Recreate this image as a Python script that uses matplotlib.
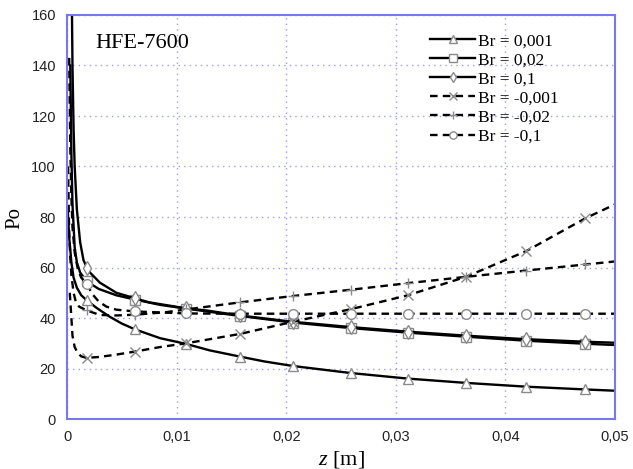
import matplotlib
matplotlib.use("Agg")
import matplotlib.pyplot as plt
from matplotlib.ticker import MultipleLocator

plt.rcParams['mathtext.fontset'] = 'custom'
plt.rcParams['mathtext.rm'] = 'Liberation Serif'
plt.rcParams['mathtext.it'] = 'Liberation Serif:italic'

# marker positions along z
marker_z = [0.0018, 0.0062, 0.0109, 0.0158, 0.0206, 0.0259, 0.0311, 0.0364, 0.0419, 0.0473]

# Br = 0.001
z_a = [0.00005, 0.0002, 0.0004, 0.0006, 0.0009, 0.0013, 0.0018, 0.0027, 0.0039, 0.005, 0.0062,
       0.0085, 0.0109, 0.0130, 0.0158, 0.018, 0.0206, 0.0259, 0.0311, 0.0364, 0.0419, 0.0473, 0.05]
p_a = [84, 72, 62, 56, 52, 49, 47, 44, 40.5, 37.8, 35.5,
       32, 29.7, 27.2, 24.7, 22.8, 21.0, 18.2, 16.0, 14.3, 12.8, 11.7, 11.2]

# Br = 0.02
z_b = [0.0003, 0.0004, 0.0005, 0.0007, 0.0009, 0.0012, 0.0018, 0.0029, 0.0045, 0.0062, 0.0085,
       0.0109, 0.0158, 0.0206, 0.0259, 0.0311, 0.0364, 0.0419, 0.0473, 0.05]
p_b = [140, 105, 85, 68, 62, 58, 54.5, 51.5, 49, 47.3, 45.2,
       43.7, 40.8, 38.2, 36.0, 34.2, 32.6, 31.0, 29.8, 29.3]

# Br = 0.1
z_c = [0.00045, 0.0005, 0.0006, 0.0007, 0.0009, 0.0012, 0.0015, 0.0018, 0.0021, 0.003, 0.0045,
       0.0062, 0.0075, 0.0109, 0.0127, 0.0158, 0.0206, 0.0259, 0.0311, 0.0364, 0.0419, 0.0473, 0.05]
p_c = [162, 140, 115, 100, 83, 70, 63, 60, 58, 54, 50,
       47.8, 46.2, 43.8, 43, 41, 38.5, 36.4, 34.6, 33.0, 31.6, 30.6, 30.2]

# Br = -0.001
z_d = [0.00025, 0.0003, 0.0004, 0.0005, 0.0007, 0.001, 0.0013, 0.0018, 0.003, 0.0045, 0.0062,
       0.0085, 0.0109, 0.0158, 0.0206, 0.0259, 0.0311, 0.0364, 0.0419, 0.0473, 0.05]
p_d = [50, 47, 40, 33, 28.5, 26, 24.8, 24.2, 24.6, 25.5, 26.7,
       28.5, 30, 33.7, 38.5, 43.5, 49, 56.3, 66.5, 79.5, 85]

# Br = -0.02
z_e = [0.0001, 0.00015, 0.0002, 0.0003, 0.0004, 0.0006, 0.0008, 0.0011, 0.0018, 0.003, 0.0045,
       0.0062, 0.009, 0.0109, 0.0158, 0.0206, 0.0259, 0.0311, 0.0364, 0.0419, 0.0473, 0.05]
p_e = [100, 85, 74, 64, 57, 50, 46.5, 44.5, 43, 41.2, 41,
       41.3, 42.3, 43.4, 46.2, 48.7, 51.2, 53.8, 56.3, 58.8, 61.2, 62.4]

# Br = -0.1
z_f = [0.0002, 0.00025, 0.0003, 0.0004, 0.0005, 0.0007, 0.001, 0.0013, 0.0018, 0.0023, 0.0029,
       0.0036, 0.0045, 0.0062, 0.0085, 0.0109, 0.0158, 0.0206, 0.0259, 0.0311, 0.0364, 0.0419,
       0.0473, 0.05]
p_f = [143, 125, 108, 88, 76, 66, 59, 56, 53.5, 49.5, 46.5,
       44.5, 43.3, 42.6, 42.2, 41.8, 41.7, 41.7, 41.7, 41.7, 41.7, 41.7,
       41.7, 41.7]

labels = ['Br = 0,001', 'Br = 0,02', 'Br = 0,1', 'Br = -0,001', 'Br = -0,02', 'Br = -0,1']
markers = ['^', 's', 'd', 'x', '+', 'o']
styles = ['-', '-', '-', '--', '--', '--']
series = [(z_a, p_a), (z_b, p_b), (z_c, p_c), (z_d, p_d), (z_e, p_e), (z_f, p_f)]

x_ticks = [0, 0.01, 0.02, 0.03, 0.04, 0.05]
x_ticklabels = ['0', '0,01', '0,02', '0,03', '0,04', '0,05']

fig = plt.figure(figsize=(6.33, 4.69), dpi=100)
ax = fig.add_axes([67/633, 50/469, (615-67)/633, (419-15)/469])

for (z, p), lab, mk, ls in zip(series, labels, markers, styles):
    idx = [i for i, v in enumerate(z) if any(abs(v - m) < 1e-9 for m in marker_z)]
    kw = dict(dashes=(3.2, 2.2)) if ls == '--' else {}
    ax.plot(z, p, color='black', linestyle=ls, linewidth=1.7,
            marker=mk, markevery=idx, markersize=7,
            markerfacecolor='white' if mk not in ('x', '+') else 'none',
            markeredgecolor='#8a8a8a', markeredgewidth=1.0, label=lab, **kw)

ax.set_xlim(0, 0.05)
ax.set_ylim(0, 160)
ax.set_xticks(x_ticks)
ax.set_xticklabels(x_ticklabels)
ax.yaxis.set_major_locator(MultipleLocator(20))
ax.tick_params(length=0, pad=8, labelsize=10.5, labelcolor='#222222')
for lab in ax.get_xticklabels() + ax.get_yticklabels():
    lab.set_family('Liberation Sans')

ax.grid(True, linestyle=(0, (1, 3)), color='#9c9cf0', linewidth=1.0)
for s in ax.spines.values():
    s.set_color('#7878ee')
    s.set_linewidth(1.5)

ax.set_xlabel(r'$z$ [m]', fontsize=16, family='Liberation Serif')
ax.xaxis.set_label_coords(0.5, (419 - 459) / 404)
ax.xaxis.label.set_verticalalignment('center')
ax.set_ylabel('Po', fontsize=15, family='Liberation Serif')
ax.yaxis.set_label_coords((15 - 67) / 548, (419 - 218) / 404)
ax.yaxis.label.set_verticalalignment('center')

ax.text(0.052, 0.93, 'HFE-7600', transform=ax.transAxes, fontsize=16,
        family='Liberation Serif', va='center', ha='left')

leg = ax.legend(loc='upper left', bbox_to_anchor=(430/633, 1 - 33/469),
                bbox_transform=fig.transFigure, frameon=False,
                prop={'family': 'Liberation Serif', 'size': 12.5},
                handlelength=2.6, handletextpad=0.15, labelspacing=0.17,
                borderpad=0, borderaxespad=0, markerscale=0.75)

fig.savefig('out.png', dpi=100)
